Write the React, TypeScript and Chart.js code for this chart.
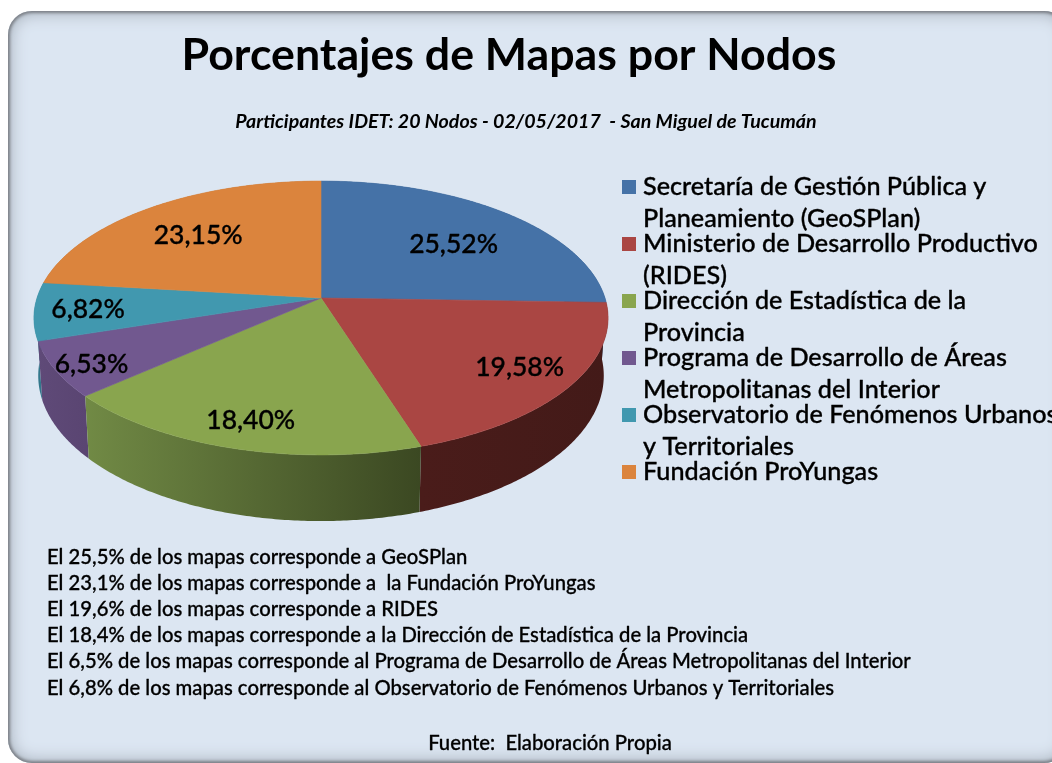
import React, { useEffect, useRef } from "react";
import { Chart, registerables } from "chart.js";

Chart.register(...registerables);

const categories = [
  "Secretaría de Gestión Pública y Planeamiento (GeoSPlan)",
  "Ministerio de Desarrollo Productivo (RIDES)",
  "Dirección de Estadística de la Provincia",
  "Programa de Desarrollo de Áreas Metropolitanas del Interior",
  "Observatorio de Fenómenos Urbanos y Territoriales",
  "Fundación ProYungas",
];
const legendLines = [
  ["Secretaría de Gestión Pública y", "Planeamiento (GeoSPlan)"],
  ["Ministerio de Desarrollo Productivo", "(RIDES)"],
  ["Dirección de Estadística de la", "Provincia"],
  ["Programa de Desarrollo de Áreas", "Metropolitanas del Interior"],
  ["Observatorio de Fenómenos Urbanos", "y Territoriales"],
  ["Fundación ProYungas"],
];
const values = [25.52, 19.58, 18.4, 6.53, 6.82, 23.15];
const topColors = ["#4572a7", "#aa4643", "#89a54e", "#71588f", "#4198af", "#db843d"];
const wallColors = [
  ["#2f4f75", "#2f4f75"],
  ["#4a1c1a", "#431a18"],
  ["#718a45", "#3b4822"],
  ["#5f4a78", "#5a4572"],
  ["#33788c", "#33788c"],
  ["#a8652e", "#a8652e"],
];
const noteLines = [
  "El 25,5% de los mapas corresponde a GeoSPlan",
  "El 23,1% de los mapas corresponde a  la Fundación ProYungas",
  "El 19,6% de los mapas corresponde a RIDES",
  "El 18,4% de los mapas corresponde a la Dirección de Estadística de la Provincia",
  "El 6,5% de los mapas corresponde al Programa de Desarrollo de Áreas Metropolitanas del Interior",
  "El 6,8% de los mapas corresponde al Observatorio de Fenómenos Urbanos y Territoriales",
];
const titleText = "Porcentajes de Mapas por Nodos";
const subtitleText = "Participantes IDET: 20 Nodos - 02/05/2017  - San Miguel de Tucumán";
const sourceText = "Fuente:  Elaboración Propia";
const labelRadius = [0.67, 0.8, 0.82, 0.875, 0.815, 0.7];
const labelAngleShift = [0.035, -0.03, 0, -0.01, 0.02, 0];

const FONT = "Lato, Carlito, sans-serif";
const CX = 321;
const CY = 298;
const A = 284;
const B = 134;
const K = 0.146;
const H = 56.5;
const BOTTOM_SHRINK = 0.985;

function project(angle: number, r: number) {
  const u = Math.cos(angle) * r;
  const v = -Math.sin(angle) * r;
  const d = 1 + K * v;
  return { x: CX + (A * u) / d, y: CY - (B * v) / d, d };
}
function projectBottom(angle: number) {
  const p = project(angle, 1);
  return { x: CX + (p.x - CX) * BOTTOM_SHRINK, y: p.y + H / p.d };
}
function steps(a: number, b: number) {
  const n = Math.max(4, Math.ceil((b - a) / 0.01));
  const out: number[] = [];
  for (let i = 0; i <= n; i++) out.push(a + ((b - a) * i) / n);
  return out;
}
function heavyText(ctx: CanvasRenderingContext2D, text: string, x: number, y: number, w: number) {
  ctx.strokeStyle = "#000";
  ctx.lineWidth = w;
  ctx.lineJoin = "round";
  ctx.strokeText(text, x, y);
  ctx.fillText(text, x, y);
}

const piePerspective = {
  id: "piePerspective",
  afterLayout(chart: any) {
    if (chart.titleBlock) {
      chart.titleBlock.left -= 17;
      chart.titleBlock.right -= 17;
    }
  },
  beforeDatasetDraw(chart: any, args: any) {
    const ctx: CanvasRenderingContext2D = chart.ctx;
    const arcs = chart.getDatasetMeta(args.index).data;
    const order = [5, 0, 4, 3, 1, 2];
    ctx.save();
    // side walls, back to front
    for (const i of order) {
      const arc = arcs[i];
      const as = steps(arc.startAngle, arc.endAngle);
      const first = project(as[0], 1);
      const last = project(as[as.length - 1], 1);
      const g = ctx.createLinearGradient(Math.min(first.x, last.x), 0, Math.max(first.x, last.x), 0);
      g.addColorStop(0, wallColors[i][0]);
      g.addColorStop(1, wallColors[i][1]);
      ctx.fillStyle = g;
      ctx.beginPath();
      as.forEach((a, j) => {
        const p = project(a, 1);
        if (j === 0) ctx.moveTo(p.x, p.y);
        else ctx.lineTo(p.x, p.y);
      });
      [...as].reverse().forEach((a) => {
        const p = projectBottom(a);
        ctx.lineTo(p.x, p.y);
      });
      ctx.closePath();
      ctx.fill();
    }
    // top faces
    arcs.forEach((arc: any) => {
      ctx.fillStyle = arc.options.backgroundColor;
      ctx.strokeStyle = arc.options.backgroundColor;
      ctx.lineWidth = 0.6;
      ctx.beginPath();
      ctx.moveTo(CX, CY);
      steps(arc.startAngle, arc.endAngle).forEach((a) => {
        const p = project(a, 1);
        ctx.lineTo(p.x, p.y);
      });
      ctx.closePath();
      ctx.fill();
      ctx.stroke();
    });
    // value labels
    ctx.fillStyle = "#000";
    ctx.font = `500 26.5px ${FONT}`;
    ctx.textAlign = "center";
    ctx.textBaseline = "middle";
    arcs.forEach((arc: any, i: number) => {
      const mid = (arc.startAngle + arc.endAngle) / 2 + labelAngleShift[i];
      const p = project(mid, labelRadius[i]);
      const text = values[i].toFixed(2).replace(".", ",") + "%";
      heavyText(ctx, text, p.x, p.y + 3, 0.35);
    });
    // legend
    ctx.textAlign = "left";
    ctx.font = `500 25.2px ${FONT}`;
    legendLines.forEach((lines, i) => {
      const y = 187 + i * 57;
      ctx.fillStyle = topColors[i];
      ctx.fillRect(622, y - 7, 14, 14);
      ctx.fillStyle = "#000";
      lines.forEach((line, j) => heavyText(ctx, line, 643, y + j * 32, 0.35));
    });
    // notes
    ctx.font = `500 20.25px ${FONT}`;
    noteLines.forEach((line, i) => heavyText(ctx, line, 47, 557 + i * 26.2, 0.3));
    ctx.textAlign = "center";
    heavyText(ctx, sourceText, 550, 743, 0.3);
    ctx.restore();
    return false;
  },
};

export default function App() {
  const ref = useRef<HTMLCanvasElement>(null);
  useEffect(() => {
    document.body.style.margin = "0";
    document.documentElement.style.overflow = "hidden";
    const chart = new Chart(ref.current!, {
      type: "pie",
      data: {
        labels: categories,
        datasets: [{ data: values, backgroundColor: topColors, borderWidth: 0 }],
      },
      options: {
        animation: false,
        responsive: false,
        plugins: {
          legend: { display: false },
          tooltip: { enabled: false },
          title: {
            display: true,
            text: titleText,
            color: "#000",
            font: { family: FONT, size: 44.7, weight: "bold" },
            padding: { top: 29, bottom: 27.6 },
          },
          subtitle: {
            display: true,
            text: subtitleText,
            color: "#000",
            font: { family: FONT, size: 19.6, weight: "bold", style: "italic" },
            padding: { top: 0, bottom: 10 },
          },
        },
      },
      plugins: [piePerspective],
    } as any);
    return () => chart.destroy();
  }, []);
  return (
    <div style={{ position: "relative", width: 1052, height: 763, overflow: "hidden", background: "#fff" }}>
      <div
        style={{
          position: "absolute",
          left: 8,
          top: 11,
          width: 1060,
          height: 752,
          borderRadius: 24,
          background: "#dce6f2",
          boxShadow: "inset 0 0 3px 2px #7c8087, inset 0 0 16px 3px #a9b2bd",
        }}
      />
      <canvas ref={ref} width={1052} height={763} style={{ position: "absolute", left: 0, top: 0, display: "block" }} />
    </div>
  );
}
